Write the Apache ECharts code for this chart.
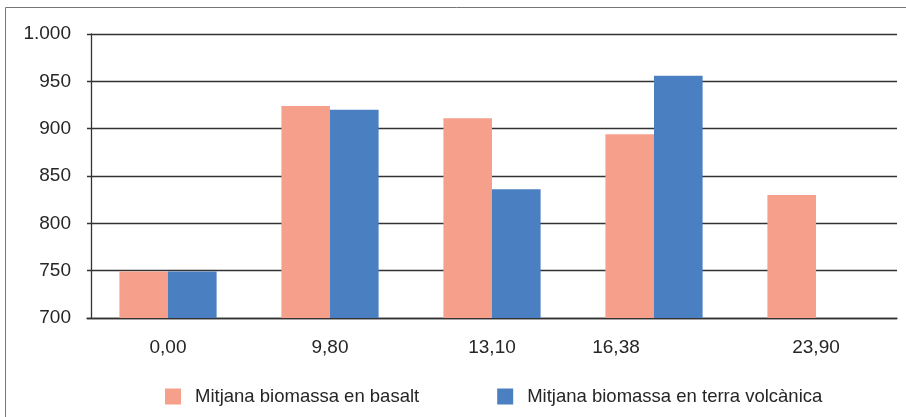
<!DOCTYPE html>
<html>
<head>
<meta charset="utf-8">
<script src="https://cdn.jsdelivr.net/npm/echarts@6/dist/echarts.min.js"></script>
<style>
html, body { margin: 0; padding: 0; background: #fff; }
#chart { width: 906px; height: 417px; }
</style>
</head>
<body>
<div id="chart"></div>
<script>
var categories = ['0,00', '9,80', '13,10', '16,38', '23,90']
var basalt = [749, 924, 911, 894, 830]
var volcanica = [749, 920, 836, 956, null]
var seriesNames = ['Mitjana biomassa en basalt', 'Mitjana biomassa en terra volcànica']
var colors = ['#F6A08C', '#4A7FC1']

var font = "'Liberation Sans', Arial, sans-serif"
var chart = echarts.init(document.getElementById('chart'))

chart.setOption({
    animation: false,
    color: colors,
    textStyle: { fontFamily: font },
    graphic: [{
        type: 'rect',
        shape: { x: 5.5, y: 7.5, width: 930, height: 440 },
        style: { fill: 'none', stroke: '#777', lineWidth: 1 }
    }],
    grid: { left: 87, right: 9, top: 34, bottom: 99 },
    legend: {
        left: 160,
        top: 382,
        width: 740,
        itemWidth: 16,
        itemHeight: 16,
        itemGap: 78,
        icon: 'rect',
        textStyle: { fontSize: 18.5, color: '#262626', fontFamily: font, padding: [0, 0, 0, 9] },
        data: seriesNames
    },
    xAxis: {
        type: 'category',
        data: categories,
        axisTick: { show: false },
        axisLine: { lineStyle: { color: '#333', width: 1.3 } },
        axisLabel: {
            margin: 20,
            fontSize: 19,
            color: '#262626',
            fontFamily: font,
            formatter: function (v, i) {
                return i === 3 ? '{s|' + v + '}' : v
            },
            rich: {
                s: { fontSize: 19, color: '#262626', fontFamily: font, padding: [0, 76, 0, 0] }
            }
        }
    },
    yAxis: {
        type: 'value',
        min: 700,
        max: 1000,
        interval: 50,
        offset: -4,
        axisLine: { show: true, lineStyle: { color: '#333', width: 1.3 } },
        axisTick: { show: false },
        splitLine: { lineStyle: { color: '#333', width: 1.3 } },
        axisLabel: {
            margin: 20,
            fontSize: 19,
            color: '#262626',
            fontFamily: font,
            formatter: function (v) {
                return String(v).replace(/\B(?=(\d{3})+(?!\d))/g, '.')
            }
        }
    },
    series: [{
        name: seriesNames[0],
        type: 'bar',
        data: basalt,
        barGap: '0%',
        barCategoryGap: '40%'
    }, {
        name: seriesNames[1],
        type: 'bar',
        data: volcanica,
        barGap: '0%',
        barCategoryGap: '40%'
    }]
})
</script>
</body>
</html>
